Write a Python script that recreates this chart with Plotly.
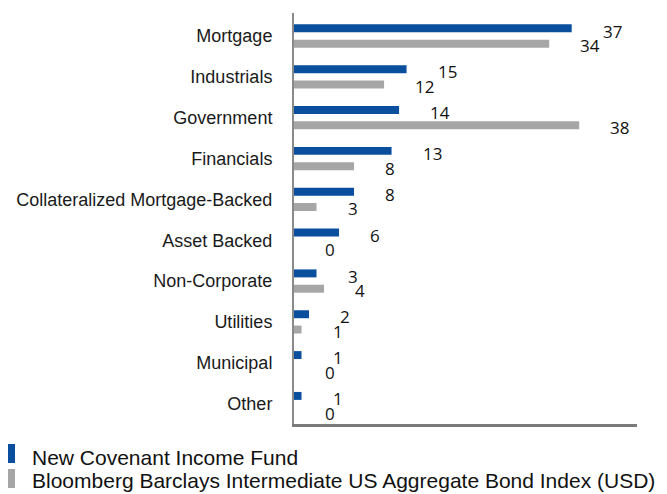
import plotly.graph_objects as go

categories = ["Mortgage", "Industrials", "Government", "Financials",
              "Collateralized Mortgage-Backed", "Asset Backed", "Non-Corporate",
              "Utilities", "Municipal", "Other"]
fund_values = [37, 15, 14, 13, 8, 6, 3, 2, 1, 1]
index_values = [34, 12, 38, 8, 3, 0, 4, 1, 0, 0]
fund_name = "New Covenant Income Fund"
index_name = "Bloomberg Barclays Intermediate US Aggregate Bond Index (USD)"

BLUE = "#0a4f9e"
GRAY = "#a6a6a6"
LABEL_FONT = dict(family="Open Sans", size=17, color="#111111")

# the page body adds an 8px offset, so the figure is sized to fill the rest of the window
FIG_W, FIG_H = 659, 486
M_L, M_R, M_T, M_B = 286, 30, 5, 70

fig = go.Figure()
fig.add_trace(go.Bar(y=categories, x=fund_values, orientation="h", name=fund_name,
                     marker=dict(color=BLUE, line=dict(width=0)), showlegend=False))
fig.add_trace(go.Bar(y=categories, x=index_values, orientation="h", name=index_name,
                     marker=dict(color=GRAY, line=dict(width=0)), showlegend=False))

annotations = []
for cat, fv, iv in zip(categories, fund_values, index_values):
    annotations.append(dict(x=fv, y=cat, xref="x", yref="y", text=str(fv), showarrow=False,
                            xanchor="left", yanchor="middle", xshift=29, yshift=5, font=LABEL_FONT))
    annotations.append(dict(x=iv, y=cat, xref="x", yref="y", text=str(iv), showarrow=False,
                            xanchor="left", yanchor="middle", xshift=29, yshift=-9.5, font=LABEL_FONT))

# custom legend
legend_font = dict(family="Liberation Sans, Arial", size=21, color="#111111")
shapes = []
for i, (name, col) in enumerate([(fund_name, BLUE), (index_name, GRAY)]):
    top = 20 + 25 * i
    shapes.append(dict(type="rect", xref="paper", yref="paper", xsizemode="pixel", ysizemode="pixel",
                       xanchor=0, yanchor=0, x0=-M_L, x1=-M_L + 7, y0=-top, y1=-(top + 19),
                       fillcolor=col, line=dict(width=0)))
    annotations.append(dict(x=0, y=0, xref="paper", yref="paper", text=name, showarrow=False,
                            xanchor="left", yanchor="middle", xshift=-264, yshift=-(33 + 23 * i),
                            font=legend_font))

fig.update_layout(
    width=FIG_W, height=FIG_H,
    margin=dict(l=M_L, r=M_R, t=M_T, b=M_B, autoexpand=False),
    paper_bgcolor="white", plot_bgcolor="white",
    barmode="group", bargap=0.25, bargroupgap=0.48,
    annotations=annotations, shapes=shapes,
    xaxis=dict(range=[0, 45.7], showticklabels=False, showgrid=False, zeroline=False,
               showline=True, linecolor="#7a7a7a", linewidth=2.5, ticks=""),
    yaxis=dict(autorange="reversed", showgrid=False, zeroline=False, showline=True,
               linecolor="#8a8a8a", linewidth=2, ticks="", ticklabelstandoff=16,
               tickfont=dict(family="Liberation Sans, Arial", size=18, color="#1a1a1a")),
)

fig.write_html("out.html")
